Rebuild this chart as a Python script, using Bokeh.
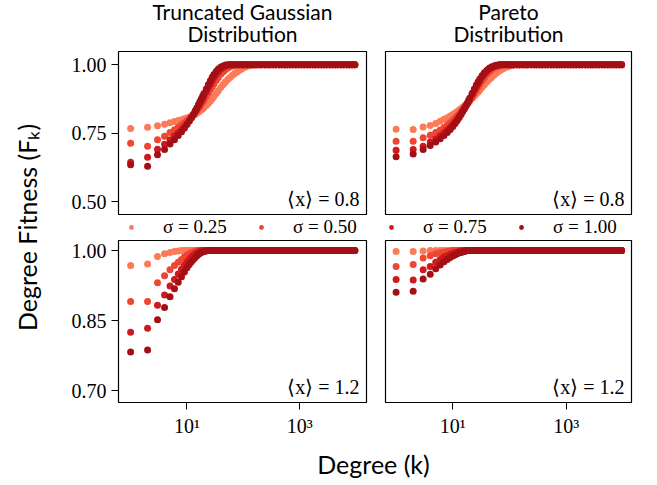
import math
from bokeh.plotting import figure
from bokeh.layouts import row, column
from bokeh.models import Range1d, FixedTicker, Legend, LegendItem, Label
from bokeh.embed import file_html
from bokeh.resources import INLINE

# ---------------- data ----------------
K = [1, 2, 3, 4, 5, 6, 7, 8, 9, 10, 11, 12, 13, 14, 15, 16, 17, 18, 19, 20,
     22, 24, 26, 28, 30, 33, 36, 40, 44, 48, 53, 58, 64, 70, 77, 85, 93, 100,
     110, 120, 135, 150, 170, 190, 210, 240, 270, 300, 340, 380, 430, 480, 540,
     600, 680, 760, 850, 950, 1070, 1200, 1350, 1500, 1700, 1900, 2150, 2400,
     2700, 3000, 3400, 3800, 4300, 4800, 5400, 6000, 6800, 7600, 8500, 9500]

SIGMAS = ["σ = 0.25", "σ = 0.50", "σ = 0.75", "σ = 1.00"]
COLORS = ["#fc7a57", "#ef4533", "#cc1a1e", "#a30f15"]
PANEL_TITLES = ["Truncated Gaussian", "Pareto"]
MEAN_LABELS = ["⟨x⟩ = 0.8", "⟨x⟩ = 1.2"]

# Truncated Gaussian, <x> = 0.8 (values until saturation at 1.0)
tg08_s025 = [.768, .772, .778, .783, .789, .793, .797, .800, .803, .806, .809, .812,
             .816, .820, .824, .828, .832, .836, .840, .844, .852, .860, .868, .876,
             .884, .895, .905, .918, .928, .937, .946, .954, .962, .968, .974, .980,
             .985, .989, .993, .996, .998, .999]
tg08_s050 = [.714, .703, .727, .739, .753, .763, .772, .780, .788, .796, .803, .810,
             .818, .826, .834, .842, .850, .857, .864, .871, .885, .898, .910, .920,
             .930, .943, .954, .966, .975, .982, .988, .993, .996, .998]
tg08_s075 = [.645, .663, .692, .710, .727, .740, .752, .763, .774, .785, .796, .807,
             .818, .829, .839, .849, .859, .868, .877, .886, .902, .917, .930, .942,
             .952, .965, .975, .985, .991, .995, .998]
tg08_s100 = [.635, .630, .672, .691, .711, .727, .742, .756, .769, .782, .795, .808,
             .820, .832, .843, .855, .866, .876, .886, .895, .912, .928, .942, .955,
             .965, .976, .985, .992, .996, .999]

# Pareto, <x> = 0.8
pa08_s025 = [.765, .764, .773, .779, .786, .794, .801, .807, .813, .819, .824, .830,
             .835, .840, .845, .850, .855, .860, .865, .870, .878, .886, .894, .901,
             .908, .918, .927, .937, .946, .954, .962, .969, .976, .981, .986, .990,
             .994, .996, .998, .999]
pa08_s050 = [.721, .721, .734, .743, .753, .762, .771, .780, .789, .797, .805, .813,
             .821, .829, .836, .843, .850, .857, .864, .871, .884, .897, .909, .920,
             .930, .943, .954, .966, .975, .982, .988, .992, .995, .997, .999]
pa08_s075 = [.688, .691, .703, .718, .730, .741, .752, .762, .772, .782, .792, .802,
             .812, .822, .832, .841, .850, .859, .868, .876, .892, .907, .920, .932,
             .942, .956, .967, .977, .985, .990, .994, .997, .999]
pa08_s100 = [.665, .675, .691, .706, .718, .730, .742, .753, .764, .775, .786, .797,
             .808, .819, .830, .840, .850, .860, .870, .879, .896, .912, .926, .938,
             .948, .961, .971, .980, .987, .992, .996, .998, .999]

# Truncated Gaussian, <x> = 1.2
tg12_s025 = [.968, .971, .987, .993, .996, .998, .999]
tg12_s050 = [.891, .891, .931, .946, .959, .968, .975, .981, .986, .990, .993, .995,
             .997, .998, .999]
tg12_s075 = [.825, .834, .883, .905, .924, .938, .950, .960, .968, .975, .981, .986,
             .990, .993, .995, .997, .998, .999]
tg12_s100 = [.783, .787, .852, .878, .901, .918, .932, .944, .954, .963, .970, .976,
             .981, .985, .989, .992, .994, .996, .997, .998, .999]

# Pareto, <x> = 1.2
pa12_s025 = [.998, .998, .999]
pa12_s050 = [.966, .970, .984, .989, .993, .995, .997, .998, .999]
pa12_s075 = [.938, .937, .959, .966, .975, .981, .986, .989, .992, .994, .996, .997,
             .998, .999]
pa12_s100 = [.911, .913, .939, .949, .961, .969, .976, .981, .985, .988, .991, .993,
             .995, .996, .997, .998, .999]

SATURATED = 1.0

PANELS = [
    [[tg08_s025, tg08_s050, tg08_s075, tg08_s100], [pa08_s025, pa08_s050, pa08_s075, pa08_s100]],
    [[tg12_s025, tg12_s050, tg12_s075, tg12_s100], [pa12_s025, pa12_s050, pa12_s075, pa12_s100]],
]

Y_TICKS = [[0.50, 0.75, 1.00], [0.70, 0.85, 1.00]]
X_TICKS = [10, 1000]
X_TICK_LABELS = {10: "10¹", 1000: "10³"}

# ---------------- styling ----------------
SERIF = "Liberation Serif"
SANS = "Lato"
Y_RANGES = [(0.454, 1.0485), (0.675, 1.0214)]
X_RANGES = [(10 ** -0.215, 10 ** 4.185), (10 ** -0.187, 10 ** 4.152)]
LABEL_X = [10 ** 4.06, 10 ** 4.03]
LABEL_Y = [0.512, 0.709]
YLAB_W = 46


def full_series(vals):
    return vals + [SATURATED] * (len(K) - len(vals))


def make_panel(r, c):
    top = r == 0
    left = c == 0
    width = 337 - (YLAB_W - 38) if left else 282
    height = 166 if top else 203
    p = figure(width=width, height=height, x_axis_type="log",
               x_range=Range1d(*X_RANGES[c]), y_range=Range1d(*Y_RANGES[r]),
               output_backend="svg", toolbar_location=None)
    p.min_border_left = 118 - YLAB_W if left else 10
    p.min_border_right = 9 if left else 26
    p.min_border_top = 2 if top else 1
    p.min_border_bottom = 1 if top else 40
    p.grid.visible = False
    p.background_fill_color = "white"
    p.border_fill_color = "white"
    p.outline_line_color = "black"
    p.outline_line_width = 1.2
    p.outline_line_alpha = 1.0
    for ax in p.axis:
        ax.axis_line_color = None
        ax.major_tick_out = 7
        ax.major_tick_in = 0
        ax.minor_tick_out = 0
        ax.minor_tick_in = 0
        ax.major_tick_line_color = "black"
        ax.major_tick_line_width = 1
        ax.major_label_text_font = SERIF
        ax.major_label_text_font_size = "20px"
        ax.major_label_text_color = "black"
    p.yaxis.ticker = FixedTicker(ticks=Y_TICKS[r])
    p.yaxis.major_label_overrides = {t: f"{t:.2f}" for t in Y_TICKS[r]}
    p.yaxis.major_label_standoff = 5
    p.xaxis.ticker = FixedTicker(ticks=X_TICKS)
    p.xaxis.major_label_overrides = X_TICK_LABELS
    p.xaxis.major_label_standoff = 5
    if top:
        p.xaxis.visible = False
    if not left:
        p.yaxis.visible = False

    for s, vals in enumerate(PANELS[r][c]):
        p.scatter(K, full_series(vals), size=7, color=COLORS[s],
                  line_color=None, fill_alpha=1.0)

    p.add_layout(Label(x=LABEL_X[c], y=LABEL_Y[r], text=MEAN_LABELS[r],
                       text_align="right", text_baseline="middle",
                       text_font=SERIF, text_font_size="20px", text_color="black"))
    return p


def blank(width, height):
    f = figure(width=width, height=height, x_range=Range1d(0, width),
               y_range=Range1d(0, height), output_backend="svg",
               toolbar_location=None, min_border=0)
    f.axis.visible = False
    f.grid.visible = False
    f.outline_line_color = None
    return f


tl = make_panel(0, 0)
tr = make_panel(0, 1)
bl = make_panel(1, 0)
br = make_panel(1, 1)

RIGHT_W = 657 - YLAB_W

# titles strip
titles = blank(RIGHT_W, 49)
for c, cx in enumerate([242, 508]):
    titles.add_layout(Label(x=cx - YLAB_W, y=38, text=PANEL_TITLES[c], text_align="center",
                            text_baseline="middle", text_font=SANS,
                            text_font_size="21px", text_color="black"))
    titles.add_layout(Label(x=cx - YLAB_W, y=16, text="Distribution", text_align="center",
                            text_baseline="middle", text_font=SANS,
                            text_font_size="21px", text_color="black"))

# legend strip (legend keys use off-screen placeholder renderers)
legfig = blank(RIGHT_W, 24)
items = []
for s in range(4):
    rr = legfig.scatter([-1000], [-1000], size=7, color=COLORS[s], line_color=None)
    items.append(LegendItem(label=SIGMAS[s], renderers=[rr]))
leg = Legend(items=items, orientation="horizontal", location=(125 - YLAB_W, 1),
             glyph_width=12, glyph_height=12, label_standoff=26,
             label_width=85, spacing=7, padding=0, margin=0,
             border_line_color=None, background_fill_alpha=0,
             label_text_font=SERIF, label_text_font_size="19px",
             label_text_color="black")
legfig.add_layout(leg, "center")

# axis labels
ylab = blank(YLAB_W, 484)
ylab.add_layout(Label(x=26, y=484 - 227, text="Degree Fitness (Fₖ)", angle=math.pi / 2,
                      text_align="center", text_baseline="middle",
                      text_font=SANS, text_font_size="25px", text_color="black"))

xlab = blank(RIGHT_W, 42)
xlab.add_layout(Label(x=373 - YLAB_W, y=42 - 21, text="Degree (k)",
                      text_align="center", text_baseline="middle",
                      text_font=SANS, text_font_size="25px", text_color="black"))

layout = row(ylab, column(titles, row(tl, tr), legfig, row(bl, br), xlab))

open("out.html", "w").write(file_html(layout, INLINE))
